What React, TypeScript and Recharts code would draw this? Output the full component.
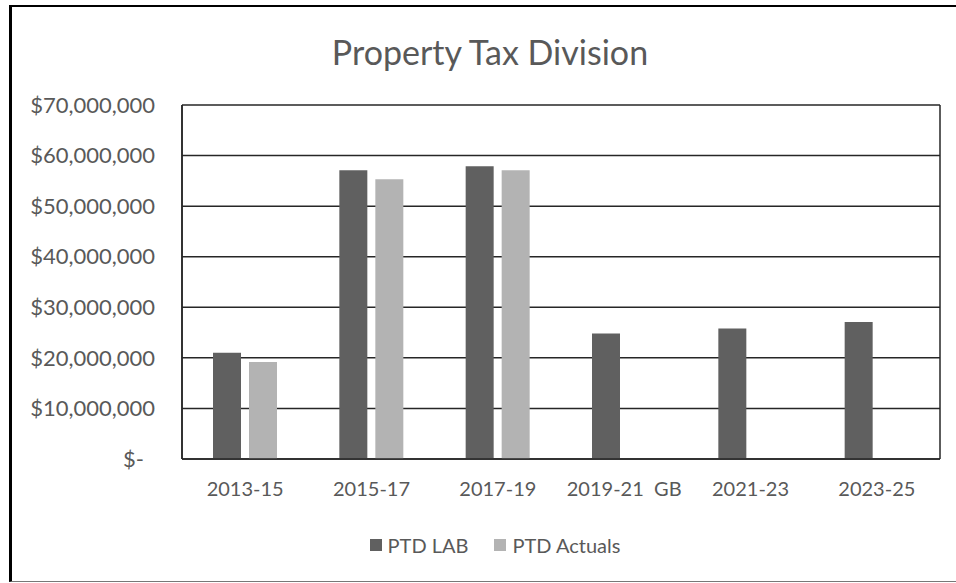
import React from 'react';
import { BarChart, Bar, XAxis, YAxis, CartesianGrid } from 'recharts';

const categories = ['2013-15', '2015-17', '2017-19', '2019-21  GB', '2021-23', '2023-25'];
const ptdLab = [21000000, 57100000, 57900000, 24800000, 25800000, 27100000];
const ptdActuals: (number | null)[] = [19200000, 55300000, 57100000, null, null, null];
const yTicks = [0, 10000000, 20000000, 30000000, 40000000, 50000000, 60000000, 70000000];
const seriesNames = ['PTD LAB', 'PTD Actuals'];

const data = categories.map((c, i) => ({ name: c, lab: ptdLab[i], actuals: ptdActuals[i] }));

const FONT = 'Lato, "Open Sans", sans-serif';
const TEXT = '#595959';
const LAB_COLOR = '#606060';
const ACT_COLOR = '#b3b3b3';

const fmt = (v: number) => (v === 0 ? '$-' : '$' + v.toLocaleString('en-US'));

const YTick = (props: any) => {
  const { x, y, payload } = props;
  const shift = payload.value === 0 ? -11 : 0;
  return (
    <text x={x + shift} y={y} dy="0.35em" textAnchor="end" fill={TEXT} fontSize={22} fontFamily={FONT}>
      {fmt(payload.value)}
    </text>
  );
};

const XTick = (props: any) => {
  const { x, y, payload } = props;
  return (
    <text x={x} y={y} dy="0.71em" textAnchor="middle" fill={TEXT} fontSize={20} fontFamily={FONT} style={{ whiteSpace: 'pre' }}>
      {payload.value}
    </text>
  );
};

export default function App() {
  return (
    <div style={{ position: 'absolute', left: 0, top: 0, width: 956, height: 583, background: '#fff', overflow: 'hidden' }}>
      <div
        style={{
          position: 'absolute',
          left: 9,
          top: 5,
          width: 960,
          height: 574,
          borderLeft: '3px solid #000',
          borderTop: '2px solid #000',
          borderBottom: '1px solid #777',
        }}
      />
      <div
        style={{
          position: 'absolute',
          left: 12,
          width: 956,
          top: 30,
          textAlign: 'center',
          fontFamily: FONT,
          fontSize: 34,
          lineHeight: '44px',
          color: TEXT,
        }}
      >
        Property Tax Division
      </div>
      <div style={{ position: 'absolute', left: 0, top: 0 }}>
        <BarChart
          width={956}
          height={583}
          data={data}
          margin={{ top: 105, right: 16, bottom: 94, left: 0 }}
          barSize={28}
          barGap={8}
        >
          <CartesianGrid
            stroke="#262626"
            strokeWidth={1.5}
            vertical={true}
            verticalCoordinatesGenerator={({ offset }: any) => [offset.left, offset.left + offset.width]}
          />
          <XAxis
            dataKey="name"
            height={30}
            tick={<XTick />}
            tickLine={false}
            axisLine={{ stroke: '#262626', strokeWidth: 1.5 }}
            tickMargin={17}
            interval={0}
          />
          <YAxis
            width={182}
            domain={[0, 70000000]}
            ticks={yTicks}
            tick={<YTick />}
            tickLine={false}
            axisLine={{ stroke: '#262626', strokeWidth: 1.5 }}
            tickMargin={21}
            interval={0}
          />
          <Bar dataKey="lab" name={seriesNames[0]} fill={LAB_COLOR} isAnimationActive={false} />
          <Bar dataKey="actuals" name={seriesNames[1]} fill={ACT_COLOR} isAnimationActive={false} />
        </BarChart>
      </div>
      <div
        style={{
          position: 'absolute',
          left: 34,
          width: 922,
          top: 532,
          display: 'flex',
          justifyContent: 'center',
          alignItems: 'center',
          fontFamily: FONT,
          fontSize: 20,
          lineHeight: '26px',
          color: TEXT,
        }}
      >
        <span style={{ display: 'inline-block', width: 12, height: 12, background: LAB_COLOR, marginRight: 6 }} />
        <span style={{ marginRight: 26 }}>{seriesNames[0]}</span>
        <span style={{ display: 'inline-block', width: 12, height: 12, background: ACT_COLOR, marginRight: 6 }} />
        <span>{seriesNames[1]}</span>
      </div>
    </div>
  );
}
